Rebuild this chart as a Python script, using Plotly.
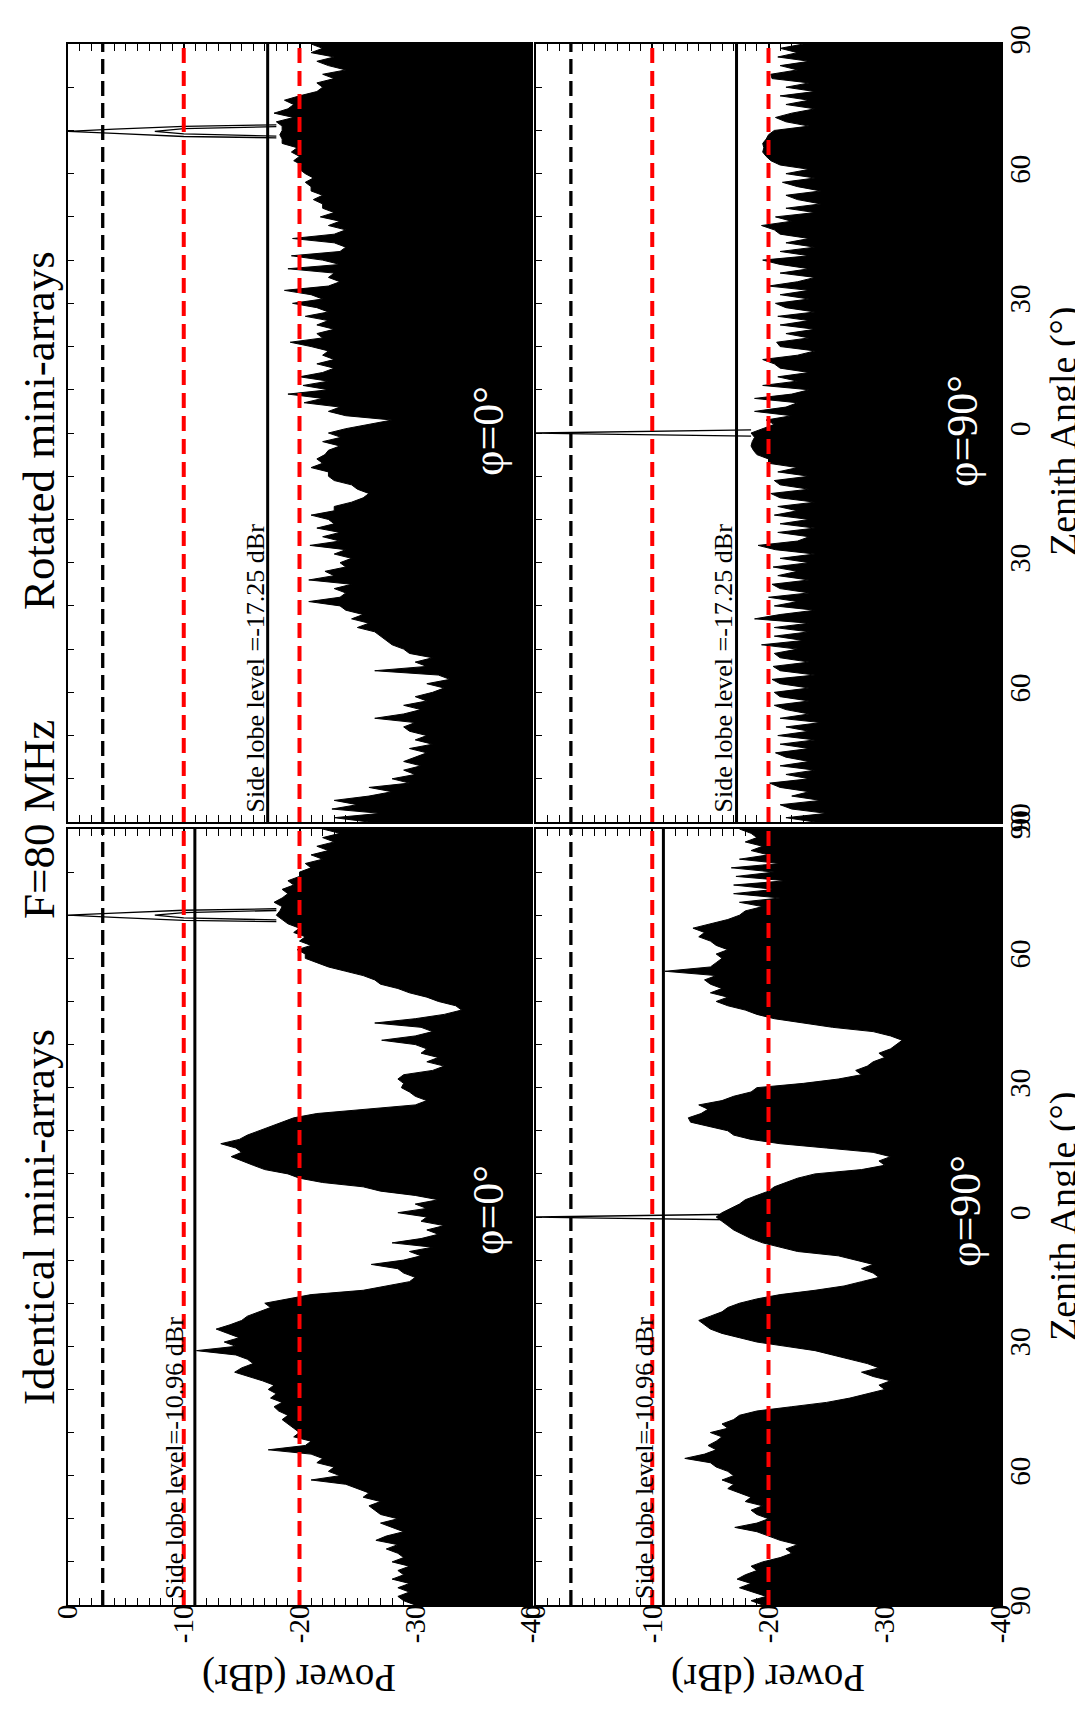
import plotly.graph_objects as go

# ---------------- data ----------------
ANGLES = list(range(-90, 91))  # zenith angle grid (deg), -90 .. 90

# Rotated mini-arrays, phi = 0 deg  (upper envelope, dBr)
ROT_PHI0 = [
    -26, -23, -27, -22.8, -25, -23, -26, -28, -26, -29.5,
    -28, -30, -29, -30.5, -29, -30, -31, -29.5, -31.5, -30,
    -31, -29.5, -29, -30, -26.5, -29, -30.5, -29, -31, -30,
    -31.5, -32.5, -31, -33, -32, -26.5, -31, -30, -31.5, -29.5,
    -29, -28, -27.5, -27, -26.5, -25, -26, -24.5, -25.5, -24,
    -23.5, -20.8, -23.5, -24, -23, -24.5, -20.8, -23, -22.2, -24,
    -23.5, -24.5, -23, -24, -20.9, -23.5, -22, -23.5, -21.5, -23,
    -22.5, -21, -23, -23, -24.5, -25.5, -26, -25, -24.5, -23,
    -22.5, -22.5, -21, -22, -21.5, -22.2, -22.5, -23.5, -22, -23.6,
    -22.5, -24, -26, -28, -24, -22.5, -23.5, -20.4, -22, -19,
    -22.5, -20.3, -22.5, -20, -22, -23, -21.5, -23, -22, -22.5,
    -21, -19.2, -22, -21.5, -23, -21.5, -22.5, -20.5, -22.5, -21.5,
    -19.4, -22, -21, -18.7, -22.5, -23.5, -22.5, -23, -19, -23.5,
    -22, -19.3, -23.5, -24, -23, -19.4, -23, -24, -22.5, -23.5,
    -21.8, -23, -22, -22, -21.2, -22, -21, -21, -20.5, -21.2,
    -20.5, -20, -20.2, -19.5, -20, -19.3, -19.8, -18.5, -18.5, -18.3,
    -18.5, -18.5, -18, -19.5, -17.8, -19, -19.5, -18.7, -20, -21.5,
    -22, -21.5, -23, -22, -24, -22.5, -21.5, -23, -21, -22, -21,
]

# Rotated mini-arrays, phi = 90 deg
ROT_PHI90 = [
    -24, -21.5, -25, -22, -21, -24.5, -22, -23.5, -21, -20.1,
    -23.5, -21.5, -24, -21, -23.5, -21.5, -20.6, -23.5, -21, -24,
    -20.8, -23.5, -21.5, -24.5, -21, -23.5, -21.5, -20.5, -23.5, -21,
    -20.5, -23.5, -21, -20.3, -24, -21, -20.4, -23.5, -21, -20.5,
    -22.5, -19.4, -23, -20.5, -23.5, -20.5, -23.5, -18.8, -21, -24,
    -20.5, -22.5, -20, -23.5, -21, -20.3, -23.5, -20.8, -22.5, -20.4,
    -23.5, -21, -24, -20.6, -19.1, -22.5, -23.5, -20.8, -24, -21,
    -23.5, -20.5, -22.5, -20.8, -24, -21, -20.2, -23.5, -21, -20.5,
    -23.5, -20.8, -22.5, -20, -20, -19, -18.7, -18.5, -18.6, -18.8,
    -18.5, -19.5, -20.5, -19.8, -22, -18.8, -21.5, -22.5, -18.8, -22,
    -23.5, -19.5, -22.5, -20.8, -23.5, -21, -20.5, -19.5, -22.5, -24,
    -21, -20.7, -23.5, -21.5, -24, -21, -23.5, -20.8, -24, -21.5,
    -20.6, -23.5, -21, -23.5, -20, -22.5, -24, -21, -23.5, -21,
    -19.5, -23.5, -21, -24, -21.5, -23.5, -21, -20.5, -19.4, -22,
    -20.6, -24, -21.5, -24.5, -22.5, -21.5, -24.5, -22.5, -21.2, -24,
    -21.5, -23.5, -21, -20.2, -19.8, -19.5, -19.6, -19.5, -19.8, -20,
    -20.5, -23.5, -21.5, -20.6, -22, -24, -21.5, -23.5, -21, -24,
    -21.5, -23.5, -20.3, -20.2, -22.5, -21, -23.5, -20.8, -22.5, -21, -23,
]

# Identical mini-arrays, phi = 0 deg
IDE_PHI0 = [
    -30, -29, -28.5, -29.5, -28.5, -29.5, -28, -29, -28.5, -29.5,
    -28, -29, -28.5, -27.5, -28.5, -26.6, -27.5, -29, -28, -27,
    -28.5, -27, -26.5, -26, -27, -25.5, -26, -25, -24, -21,
    -23.5, -22.5, -23, -21.5, -22, -21, -17.3, -20.5, -21, -19.5,
    -20, -19.5, -19, -18.5, -19, -18.2, -17.8, -18.5, -17.5, -18,
    -17.3, -17.8, -16.8, -15.5, -14.4, -15, -16, -15.5, -14.5, -11.1,
    -14.5, -13.5, -14.8, -13.8, -12.8, -14, -15, -15.5, -16.5, -17.5,
    -17, -19, -21, -25.5, -27.5, -29.5, -30, -29, -28.5, -26.2,
    -29, -30.5, -29.5, -31.5, -28, -30.5, -32, -31, -32.5, -30.5,
    -31, -28.5, -31, -30, -32, -30, -27, -25.5, -22, -20,
    -19, -17, -16, -15, -14.1, -15, -14.5, -13.2, -14.8, -15.5,
    -16.5, -17.5, -18.5, -19.5, -21.5, -26, -30, -31, -30, -29.5,
    -28.8, -29, -28.5, -29, -31.5, -32.5, -31, -32, -30.5, -31,
    -30, -27.1, -30, -31.5, -30.5, -26.5, -30, -32.5, -34, -33.5,
    -32, -31, -29.5, -28.5, -27, -26.5, -25.5, -24, -22.5, -21.5,
    -20.5, -20.5, -19.8, -21, -20, -20.5, -19.5, -20, -19, -18.5,
    -18, -18.3, -18.5, -17.8, -18.5, -19, -18.5, -19.5, -19, -20,
    -20, -21, -20.5, -22, -21, -22.5, -21.5, -23, -22, -23.5, -22,
]

# Identical mini-arrays, phi = 90 deg
IDE_PHI90 = [
    -19.5, -18.5, -19.8, -18.7, -17.5, -18.5, -17.3, -18, -19, -18.5,
    -19.5, -21, -22, -21.5, -22.5, -21, -20, -19, -17.1, -19,
    -20, -19, -18.5, -19.5, -18, -18.5, -17.5, -16.5, -17, -16,
    -17, -16.5, -15.5, -15, -12.8, -14.5, -15.5, -14.8, -15.5, -16,
    -15, -16.5, -16, -17, -17.5, -19, -22, -25, -27, -28.5,
    -30, -29.5, -30.5, -29, -28, -29.5, -28.5, -27, -25.5, -24,
    -21.5, -19, -17.5, -16, -15, -14.5, -14, -15, -16, -16.5,
    -17.5, -19, -21, -24, -26.5, -28, -29.5, -29, -28, -29,
    -27.5, -26, -22.5, -21, -19.5, -18.5, -17.8, -17, -16.5, -16,
    -15.5, -16, -16.8, -17.5, -18, -19, -20, -20.5, -21.5, -22.5,
    -24, -28, -30, -29.5, -30.5, -29, -25, -21, -18.5, -17,
    -16.5, -15, -13.3, -13.1, -14.2, -14.8, -14, -16, -17, -18.5,
    -19, -23, -26, -28, -27.5, -28.5, -29, -30, -29.5, -30.5,
    -31, -31.5, -30.5, -29, -25.5, -23, -20.5, -19, -18, -16.5,
    -15.5, -16.5, -15, -16, -15, -14.5, -15.5, -11.1, -15, -15.5,
    -16, -15.5, -16.5, -15.5, -15, -14, -14.5, -13.5, -15, -16.5,
    -17.5, -18, -19.5, -17.5, -21, -17, -20.5, -17, -21.5, -17.2,
    -20.5, -16.8, -21, -17.5, -20, -18.5, -19.5, -18, -19, -18.5, -17.5,
]

# main-beam outlines (power dBr, zenith deg)
BEAM_PHI0_P = [-18, -10, -4, 0, -4, -10, -18]
BEAM_PHI0_Z = [71.3, 70.95, 70.3, 69.8, 69.3, 68.6, 68.3]
BEAM_PHI0_INNER_P = [-18, -10, -7.5, -10, -18]
BEAM_PHI0_INNER_Z = [70.9, 70.4, 69.8, 69.2, 68.7]
BEAM_PHI90_P = [-18.5, -10, -4, 0, -4, -10, -18.5]
BEAM_PHI90_Z = [0.7, 0.45, 0.2, 0, -0.2, -0.45, -0.7]

FLOOR = -40
LEVEL_3DB = -3
RED_LEVELS = [-10, -20]
SIDELOBE_ROT = -17.25
SIDELOBE_IDE = -10.96

POWER_TICKS = [0, -10, -20, -30, -40]
POWER_TICKTEXT = ["0", "-10", "-20", "-30", "-40"]
ZEN_TICKS = [-90, -60, -30, 0, 30, 60, 90]
ZEN_TICKTEXT = ["90", "60", "30", "0", "30", "60", "90"]

# ---------------- layout helpers ----------------
W, H = 1083, 1711
FONT = "Liberation Serif"


def px(xp):
    return xp / W


def py(yp):
    return 1 - yp / H


COLS = [(60, 523), (528, 993)]
ROWS = [(36, 814), (821, 1597)]

fig = go.Figure()

panels = [
    (ROT_PHI0, BEAM_PHI0_P, BEAM_PHI0_Z, True, SIDELOBE_ROT, 1, 0, 0),
    (ROT_PHI90, BEAM_PHI90_P, BEAM_PHI90_Z, False, SIDELOBE_ROT, 2, 0, 1),
    (IDE_PHI0, BEAM_PHI0_P, [z + 0.2 for z in BEAM_PHI0_Z], True, SIDELOBE_IDE, 3, 1, 0),
    (IDE_PHI90, BEAM_PHI90_P, BEAM_PHI90_Z, False, SIDELOBE_IDE, 4, 1, 1),
]

shapes = []
for data, bp, bz, inner, sll, k, r, c in panels:
    xa = "x" if k == 1 else f"x{k}"
    ya = "y" if k == 1 else f"y{k}"
    fig.add_trace(go.Scatter(x=[FLOOR] * len(ANGLES), y=ANGLES, mode="lines",
                             line=dict(width=0, color="black"), xaxis=xa, yaxis=ya,
                             showlegend=False, hoverinfo="skip"))
    fig.add_trace(go.Scatter(x=data, y=ANGLES, mode="lines",
                             line=dict(width=1, color="black"),
                             fill="tonextx", fillcolor="black",
                             xaxis=xa, yaxis=ya, showlegend=False))
    fig.add_trace(go.Scatter(x=bp, y=bz, mode="lines",
                             line=dict(width=1.3, color="black"),
                             xaxis=xa, yaxis=ya, showlegend=False))
    if inner:
        fig.add_trace(go.Scatter(x=BEAM_PHI0_INNER_P,
                                 y=[z + (0.2 if r == 1 else 0) for z in BEAM_PHI0_INNER_Z],
                                 mode="lines", line=dict(width=1.3, color="black"),
                                 xaxis=xa, yaxis=ya, showlegend=False))
    yd = f"{ya} domain"
    shapes.append(dict(type="line", xref=xa, yref=yd, x0=LEVEL_3DB, x1=LEVEL_3DB, y0=0, y1=1,
                       line=dict(color="black", width=3.3, dash="15px,7px")))
    for lv in RED_LEVELS:
        shapes.append(dict(type="line", xref=xa, yref=yd, x0=lv, x1=lv, y0=0, y1=1,
                           line=dict(color="#ff0000", width=4, dash="15px,8px")))
    shapes.append(dict(type="line", xref=xa, yref=yd, x0=sll, x1=sll, y0=0, y1=1,
                       line=dict(color="black", width=3)))

    x0, x1 = COLS[c]
    y0, y1 = ROWS[r]
    xkey = "xaxis" if k == 1 else f"xaxis{k}"
    ykey = "yaxis" if k == 1 else f"yaxis{k}"
    fig.layout[xkey] = dict(
        domain=[px(x0), px(x1)], anchor=ya, range=[0, -40], automargin=False,
        tickmode="array", tickvals=POWER_TICKS, ticktext=POWER_TICKTEXT,
        ticks="inside", ticklen=13, tickwidth=1.5, tickcolor="black",
        minor=dict(tickmode="linear", tick0=0, dtick=1, ticks="inside", ticklen=7,
                   tickwidth=1.2, tickcolor="black"),
        showticklabels=(r == 1), tickangle=-90, ticklabelstandoff=-14,
        tickfont=dict(family=FONT, size=29, color="black"),
        showline=True, linewidth=2, linecolor="black", mirror="allticks",
        showgrid=False, zeroline=False, fixedrange=True,
    )
    fig.layout[ykey] = dict(
        domain=[py(y1), py(y0)], anchor=xa, range=[-90, 90], automargin=False,
        tickmode="array", tickvals=ZEN_TICKS, ticktext=ZEN_TICKTEXT,
        ticks="inside", ticklen=6, tickwidth=1.2, tickcolor="black",
        minor=dict(tickmode="linear", tick0=0, dtick=10, ticks="inside", ticklen=6,
                   tickwidth=1.2, tickcolor="black"),
        side="right" if c == 1 else "left",
        showticklabels=(c == 1), tickangle=-90, ticklabelstandoff=-8,
        tickfont=dict(family=FONT, size=29, color="black"),
        showline=True, linewidth=2, linecolor="black", mirror="allticks",
        showgrid=False, zeroline=False, fixedrange=True,
    )

ann = []


def add_text(text, xp, yp, size, angle, color="black", xanchor="center", yanchor="middle"):
    ann.append(dict(text=text, x=px(xp), y=py(yp), xref="paper", yref="paper",
                    showarrow=False, textangle=angle, xanchor=xanchor, yanchor=yanchor,
                    font=dict(family=FONT, size=size, color=color)))


add_text("Rotated mini-arrays", 31, 423, 45, -90)
add_text("F=80 MHz", 31, 812, 45, -90)
add_text("Identical mini-arrays", 31, 1209, 45, -90)
add_text("Zenith Angle (°)", 1055, 424, 38, -90)
add_text("Zenith Angle (°)", 1055, 1209, 38, -90)
add_text("Power (dBr)", 291, 1670, 39, 180)
add_text("Power (dBr)", 760, 1670, 39, 180)
add_text("Side lobe level =-17.25 dBr", 247, 807, 26, -90, yanchor="bottom")
add_text("Side lobe level =-17.25 dBr", 715, 807, 26, -90, yanchor="bottom")
add_text("Side lobe level=-10.96 dBr", 166, 1593, 26, -90, yanchor="bottom")
add_text("Side lobe level=-10.96 dBr", 636, 1593, 26, -90, yanchor="bottom")
add_text("φ=0°", 481, 423, 44, -90, color="white")
add_text("φ=90°", 955, 423, 44, -90, color="white")
add_text("φ=0°", 480, 1202, 44, -90, color="white")
add_text("φ=90°", 957, 1203, 44, -90, color="white")

fig.update_layout(
    width=W, height=H, margin=dict(l=0, r=0, t=0, b=0, autoexpand=False),
    paper_bgcolor="white", plot_bgcolor="white",
    shapes=shapes, annotations=ann, showlegend=False,
    font=dict(family=FONT, color="black"),
)

fig.write_html("out.html")
